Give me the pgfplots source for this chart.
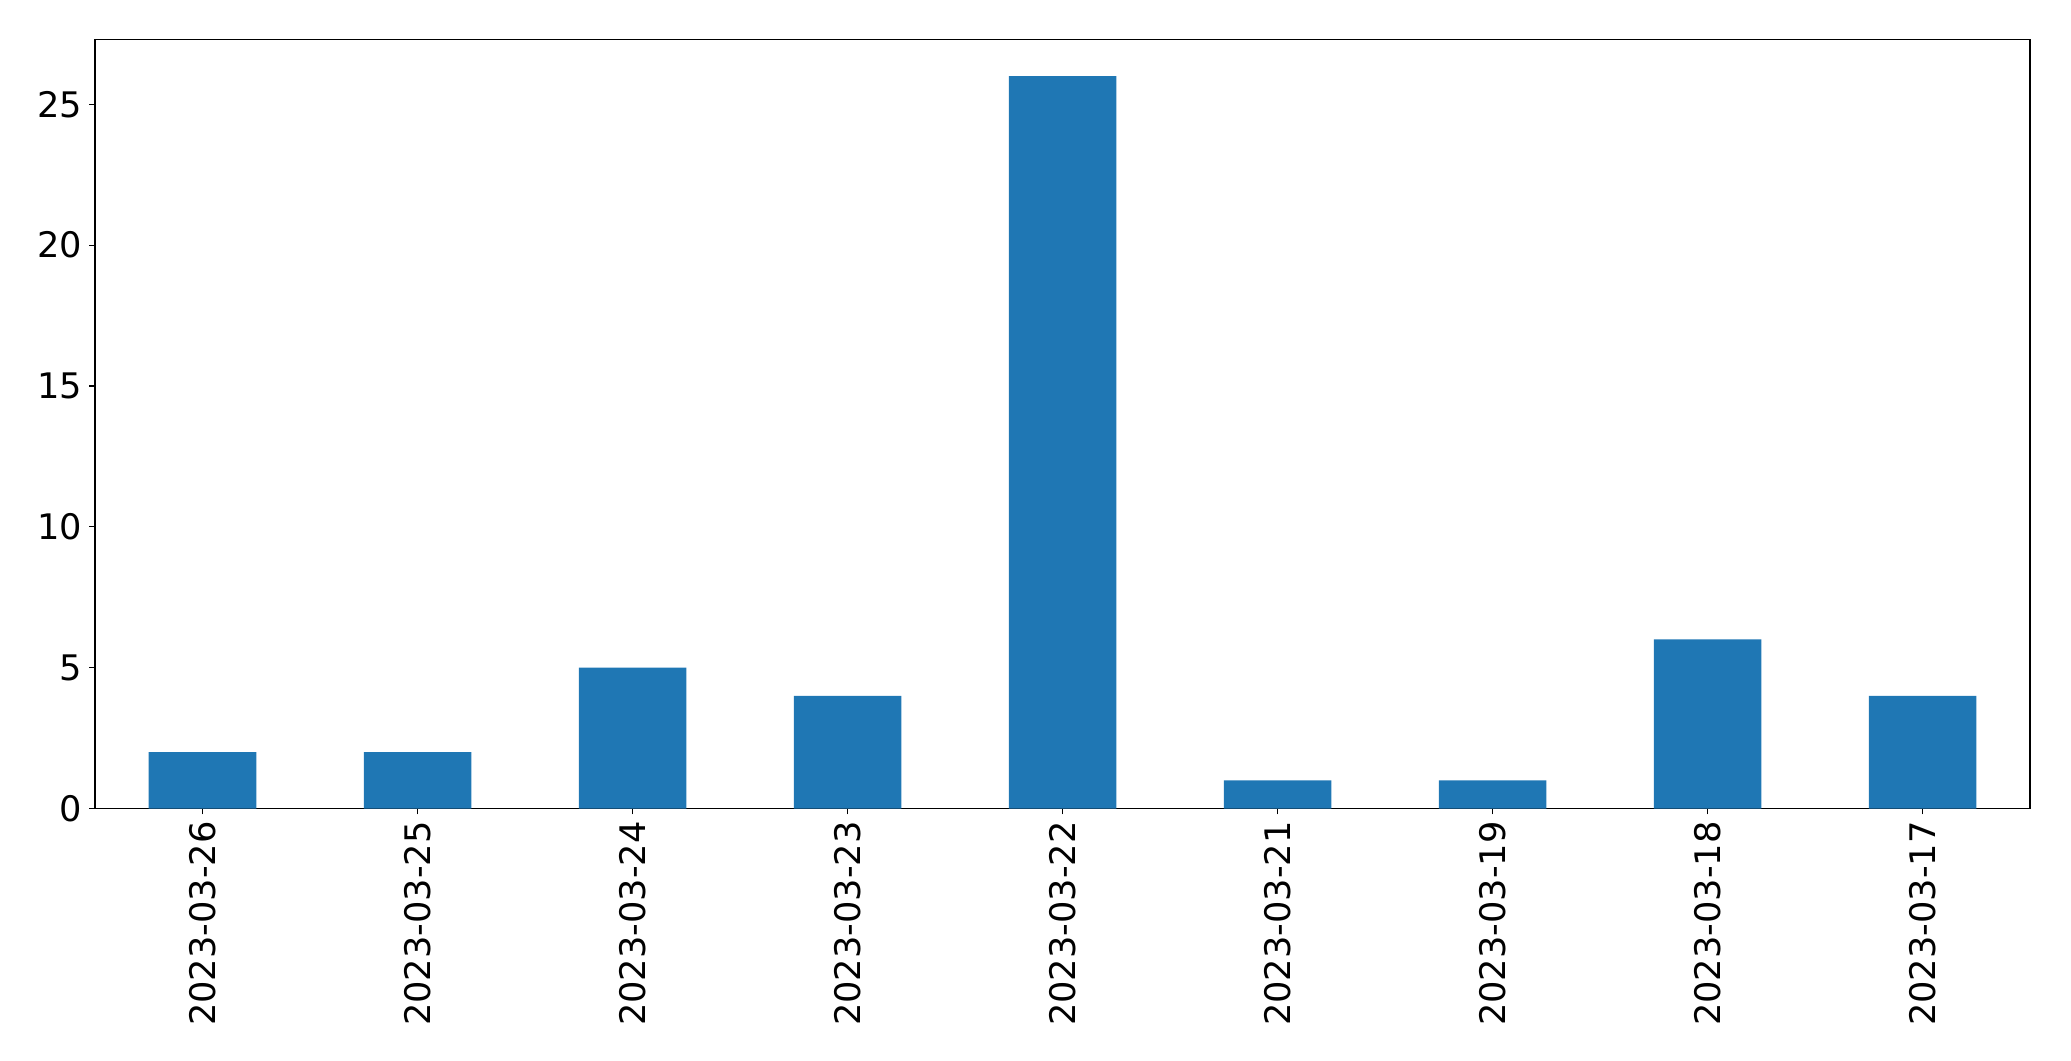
\documentclass[border=0pt]{standalone}
\usepackage{fontspec}
\setmainfont{DejaVu Sans}
\usepackage{pgfplots}
\pgfplotsset{compat=1.18}
\definecolor{mplblue}{HTML}{1F77B4}
\begin{document}
\begin{tikzpicture}
\begin{axis}[
  name=ax,
  scale only axis,
  width=967.5pt, height=384.5pt,
  xmin=-0.5, xmax=8.5,
  ymin=0, ymax=27.3,
  xtick={0,...,8},
  xticklabels={2023-03-26,2023-03-25,2023-03-24,2023-03-23,2023-03-22,2023-03-21,2023-03-19,2023-03-18,2023-03-17},
  xticklabel style={rotate=90, anchor=east, font=\fontsize{17.6}{20}\selectfont},
  ytick={0,5,10,15,20,25},
  yticklabel style={font=\fontsize{17.6}{20}\selectfont},
  /pgf/number format/assume math mode=true,
  tick align=outside,
  major tick length=2.9pt,
  tick style={black, line width=0.55pt},
  xtick pos=bottom, ytick pos=left,
  axis line style={line width=0.55pt},
  ybar, bar width=0.5,
]
\addplot[fill=mplblue, draw=none] coordinates {
(0,2) (1,2) (2,5) (3,4) (4,26) (5,1) (6,1) (7,6) (8,4)
};
\end{axis}
\pgfresetboundingbox
\path[use as bounding box] ([xshift=-47.5pt,yshift=-126pt]ax.south west) rectangle ([xshift=20.5pt,yshift=19.75pt]ax.north east);
\end{tikzpicture}
\end{document}
